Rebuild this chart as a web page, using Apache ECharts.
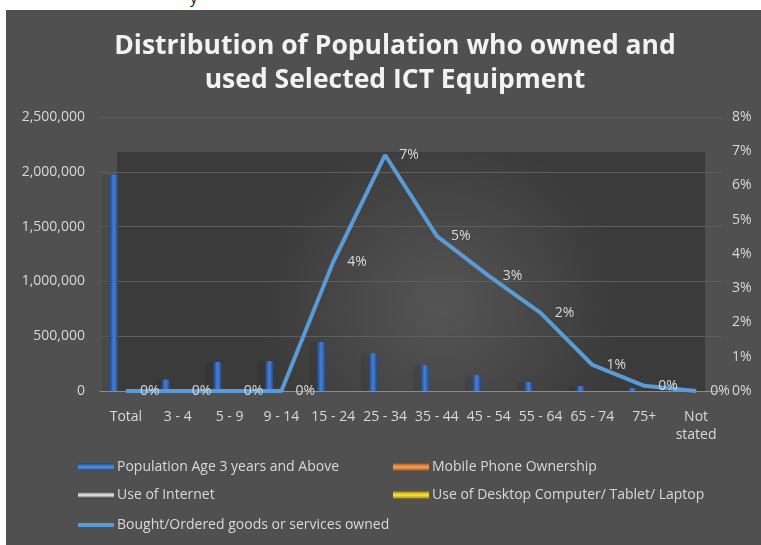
<!DOCTYPE html>
<html>
<head>
<meta charset="utf-8">
<script src="https://cdn.jsdelivr.net/npm/echarts@6/dist/echarts.min.js"></script>
<style>
  html, body { margin: 0; padding: 0; background: #ffffff; width: 761px; height: 545px; overflow: hidden; }
  #cut { position: absolute; left: 190px; top: -13px; font: 15px "Open Sans", sans-serif; color: #111; }
  #chart { position: absolute; left: 6px; top: 10px; width: 755px; height: 535px; }
</style>
</head>
<body>
<div id="cut">y</div>
<div id="chart"></div>
<script>
// Age groups along the category axis
const categories = ['Total', '3 - 4', '5 - 9', '9 - 14', '15 - 24', '25 - 34', '35 - 44', '45 - 54', '55 - 64', '65 - 74', '75+', 'Not stated'];

// Persons (left axis)
const populationAge3Plus = [1976000, 105000, 265000, 274000, 447000, 347000, 237000, 146000, 82000, 46000, 27000, 3000];
const mobilePhoneOwnership = [0, 0, 0, 0, 0, 0, 0, 0, 0, 0, 0, 0];
const internetUse = [0, 0, 0, 0, 0, 0, 0, 0, 0, 0, 0, 0];
const desktopTabletLaptopUse = [0, 0, 0, 0, 0, 0, 0, 0, 0, 0, 0, 0];

// Percent of population (right axis)
const boughtOrderedPct = [0, 0, 0, 0, 3.77, 6.89, 4.52, 3.36, 2.28, 0.76, 0.15, 0];

// Axis ranges
const leftAxisMax = 2500000, leftAxisStep = 500000;
const rightAxisMax = 8, rightAxisStep = 1;

const FONT = '"Open Sans", sans-serif';
const TEXT = '#d9d9d9';

const grad = echarts.graphic.LinearGradient;
function cylinder(edge, mid) {
  return new grad(0, 0, 1, 0, [
    { offset: 0, color: edge }, { offset: 0.5, color: mid }, { offset: 1, color: edge }
  ]);
}
function band(edge, mid) {
  return new grad(0, 0, 0, 1, [
    { offset: 0, color: edge }, { offset: 0.5, color: mid }, { offset: 1, color: edge }
  ]);
}

const names = [
  'Population Age 3 years and Above',
  'Mobile Phone Ownership',
  'Use of Internet',
  'Use of Desktop Computer/ Tablet/ Laptop',
  'Bought/Ordered goods or services owned'
];
const barColors = [
  ['#1d4a8f', '#4a80d0'],
  ['#b85a16', '#f19a4e'],
  ['#6e6e6e', '#f2f2f2'],
  ['#b59a00', '#ffe34d']
];

function legendAt(name, left, top, isLine, style) {
  return {
    left: left, top: top, orient: 'horizontal',
    itemWidth: 36, itemHeight: isLine ? 4 : 7, itemGap: 0,
    icon: 'rect',
    selectedMode: false,
    textStyle: { color: TEXT, fontSize: 14, fontFamily: FONT, padding: [0, 0, 0, -2] },
    data: [{ name: name, itemStyle: style }]
  };
}

const chart = echarts.init(document.getElementById('chart'), null, { renderer: 'canvas' });

const barSeries = [populationAge3Plus, mobilePhoneOwnership, internetUse, desktopTabletLaptopUse].map((vals, i) => ({
  name: names[i],
  type: 'bar',
  yAxisIndex: 0,
  data: vals,
  barWidth: 8,
  barGap: '0%',
  itemStyle: {
    color: cylinder(barColors[i][0], barColors[i][1]),
    borderRadius: [3, 3, 0, 0],
    shadowColor: 'rgba(0,0,0,0.09)',
    shadowOffsetX: -8,
    shadowBlur: 0
  },
  z: 3
}));

chart.setOption({
  backgroundColor: '#505050',
  animation: false,
  textStyle: { fontFamily: FONT },
  title: {
    text: 'Distribution of Population who owned and\nused Selected ICT Equipment',
    left: 384, top: 14, textAlign: 'center',
    textStyle: { color: '#f2f2f2', fontSize: 26.5, fontWeight: 'bold', fontFamily: FONT, lineHeight: 34 }
  },
  graphic: [{
    type: 'rect', z: -1,
    shape: { x: 111, y: 142, width: 588, height: 239 },
    style: {
      fill: new echarts.graphic.RadialGradient(0.55, 0.65, 0.75, [
        { offset: 0, color: '#555555' }, { offset: 1, color: '#3b3b3b' }
      ])
    }
  }],
  legend: [
    legendAt(names[0], 67, 445, false, { color: band('#1d4a8f', '#5b8fdc') }),
    legendAt(names[1], 382, 445, false, { color: band('#b85a16', '#f3a262') }),
    legendAt(names[2], 67, 473, false, { color: band('#3a3a3a', '#f2f2f2') }),
    legendAt(names[3], 382, 473, false, { color: band('#a88f00', '#ffe34d') }),
    legendAt(names[4], 67, 503, true, { color: '#5b9bd5' })
  ],
  grid: { left: 94, right: 39, top: 107, bottom: 154, containLabel: false },
  xAxis: {
    type: 'category',
    data: categories,
    axisLine: { lineStyle: { color: '#8c8c8c', width: 1 } },
    axisTick: { show: false },
    axisLabel: {
      color: TEXT, fontSize: 14, fontFamily: FONT, margin: 17, lineHeight: 18, interval: 0,
      formatter: v => v === 'Not stated' ? 'Not\nstated' : v
    }
  },
  yAxis: [{
    type: 'value', min: 0, max: leftAxisMax, interval: leftAxisStep,
    axisLine: { show: false }, axisTick: { show: false },
    splitLine: { lineStyle: { color: '#5e5e5e', width: 1 } },
    axisLabel: {
      color: TEXT, fontSize: 14, fontFamily: FONT, margin: 15,
      formatter: v => v.toLocaleString('en-US')
    }
  }, {
    type: 'value', min: 0, max: rightAxisMax, interval: rightAxisStep,
    axisLine: { show: false }, axisTick: { show: false }, splitLine: { show: false },
    axisLabel: { color: TEXT, fontSize: 14, fontFamily: FONT, margin: 10, formatter: '{value}%' }
  }],
  series: barSeries.concat([{
    name: names[4],
    type: 'line',
    yAxisIndex: 1,
    data: boughtOrderedPct,
    symbol: 'circle',
    symbolSize: 0.1,
    showSymbol: true,
    lineStyle: { color: '#5b9bd5', width: 4 },
    itemStyle: { color: '#5b9bd5' },
    label: {
      show: true, position: 'right', distance: 14, offset: [0, 2],
      color: TEXT, fontSize: 14, fontFamily: FONT,
      formatter: p => Math.round(p.value) + '%'
    },
    labelLayout: { hideOverlap: false },
    z: 5
  }])
});
</script>
</body>
</html>
